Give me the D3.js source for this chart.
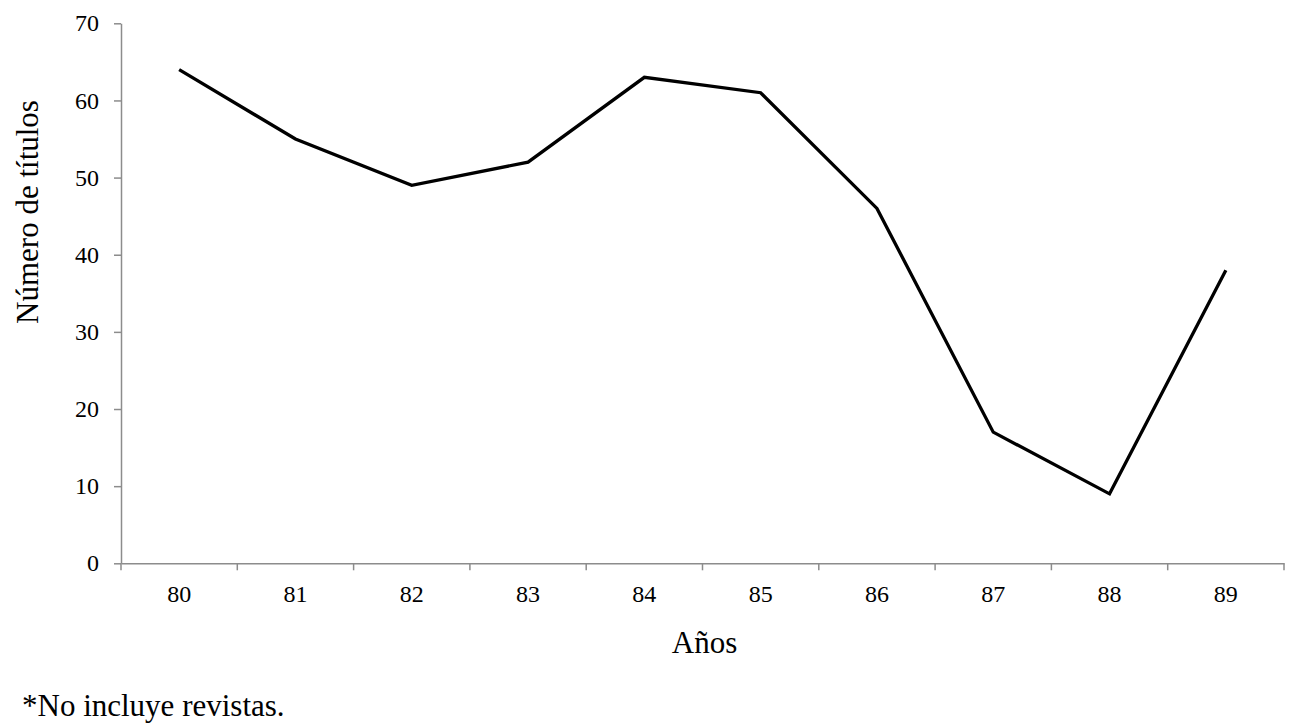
<!DOCTYPE html>
<html><head><meta charset="utf-8">
<script src="https://cdn.jsdelivr.net/npm/d3@7"></script>
<style>body{margin:0;background:#fff}svg{display:block}</style>
</head><body>
<svg id="c" width="1299" height="724"></svg>
<script>
const years = ["80","81","82","83","84","85","86","87","88","89"];
const titles = [64,55,49,52,63,61,46,17,9,38];
const yTicks = [0,10,20,30,40,50,60,70];

const svg = d3.select("#c");
const m = {left:121, right:1284, top:23.3, bottom:563.3};
const x = d3.scaleBand().domain(years).range([m.left, m.right]);
const y = d3.scaleLinear().domain([0,70]).range([m.bottom, m.top]);
const font = "'Liberation Serif','Times New Roman',serif";
const axisCol = "#8c8c8c";

// y axis
const ya = svg.append("g").attr("transform",`translate(${m.left},0)`)
  .call(d3.axisLeft(y).tickValues(yTicks).tickSize(7).tickPadding(15).tickSizeOuter(0));
ya.select(".domain").attr("stroke",axisCol).attr("stroke-width",1.5);
ya.selectAll(".tick line").attr("stroke",axisCol).attr("stroke-width",1.5);
ya.selectAll("text").attr("font-family",font).attr("font-size",24).attr("fill","#000");

// x axis
const xa = svg.append("g").attr("transform",`translate(0,${m.bottom})`)
  .call(d3.axisBottom(x).tickSize(0).tickPadding(22).tickSizeOuter(0));
xa.select(".domain").attr("stroke",axisCol).attr("stroke-width",1.5);
xa.selectAll("text").attr("font-family",font).attr("font-size",24).attr("fill","#000");
// band boundary ticks
const bounds = years.map(d => x(d)).concat([m.right]);
xa.selectAll(".btick").data(bounds).enter().append("line")
  .attr("x1",d=>d).attr("x2",d=>d).attr("y1",0).attr("y2",7)
  .attr("stroke",axisCol).attr("stroke-width",1.5);

// line
const line = d3.line().x((d,i)=>x(years[i])+x.bandwidth()/2).y(d=>y(d));
svg.append("path").datum(titles).attr("d",line)
  .attr("fill","none").attr("stroke","#000").attr("stroke-width",3.3).attr("stroke-linejoin","miter");

// titles
svg.append("text").attr("transform","translate(38,212) rotate(-90)")
  .attr("text-anchor","middle").attr("font-family",font).attr("font-size",31).text("Número de títulos");
svg.append("text").attr("x",(m.left+m.right)/2 + 2).attr("y",653)
  .attr("text-anchor","middle").attr("font-family",font).attr("font-size",31).text("Años");
svg.append("text").attr("x",22).attr("y",716)
  .attr("font-family",font).attr("font-size",31).text("*No incluye revistas.");
</script>
</body></html>
